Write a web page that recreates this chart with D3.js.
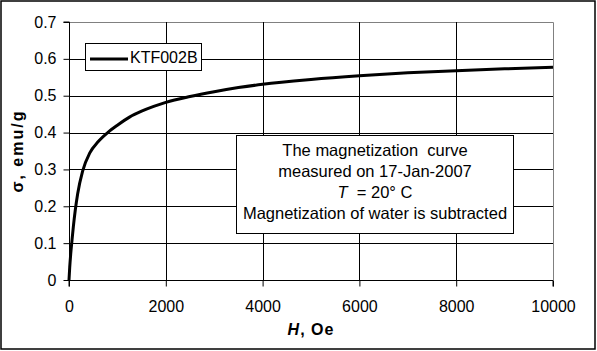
<!DOCTYPE html>
<html><head><meta charset="utf-8">
<script src="https://cdn.jsdelivr.net/npm/d3@7"></script>
<style>
html,body{margin:0;padding:0;background:#fff;}
svg{display:block;font-family:Arial,"Liberation Sans",sans-serif;}
</style></head>
<body>
<svg id="chart" width="597" height="351"></svg>
<script>
const fieldH = [0, 15, 35, 60, 90, 130, 180, 280, 430, 600, 800, 1000, 1250, 1500, 1750, 2000, 2500, 3000, 3500, 4000, 5000, 6000, 7000, 8000, 9000, 10000];
const sigma  = [0, 0.035, 0.07, 0.105, 0.145, 0.19, 0.235, 0.295, 0.345, 0.375, 0.40, 0.42, 0.442, 0.458, 0.471, 0.482, 0.498, 0.511, 0.522, 0.531, 0.544, 0.554, 0.562, 0.568, 0.573, 0.577];
const xTicks = [0, 2000, 4000, 6000, 8000, 10000];
const yTicks = [0, 0.1, 0.2, 0.3, 0.4, 0.5, 0.6, 0.7];
const seriesName = "KTF002B";
const noteLines = ["The magnetization  curve", "measured on 17-Jan-2007", "T  = 20° C", "Magnetization of water is subtracted"];

(function () {
const svg = d3.select("#chart");
const pL = 69, pR = 553, pT = 22, pB = 280;
const x = d3.scaleLinear().domain([0, 10000]).range([pL, pR]);
const y = d3.scaleLinear().domain([0, 0.7]).range([pB, pT]);

// outer frame
svg.append("rect").attr("x", 1).attr("y", 1).attr("width", 594).attr("height", 348)
  .attr("fill", "#fff").attr("stroke", "#000").attr("stroke-width", 1.5);

// plot border (grey top/right)
svg.append("path").attr("d", `M${pL},${pT + 0.5}H${pR + 0.5}V${pB}`)
  .attr("fill", "none").attr("stroke", "#808080").attr("stroke-width", 1);

// gridlines
const g = svg.append("g");
g.selectAll(".hg").data(yTicks.filter(d => d > 0 && d < 0.7)).join("line")
  .attr("x1", pL).attr("x2", pR)
  .attr("y1", d => Math.round(y(d)) + 0.5).attr("y2", d => Math.round(y(d)) + 0.5)
  .attr("stroke", "#000").attr("stroke-width", 1);
g.selectAll(".vg").data(xTicks.filter(d => d > 0 && d < 10000)).join("line")
  .attr("y1", pT).attr("y2", pB)
  .attr("x1", d => Math.round(x(d)) + 0.5).attr("x2", d => Math.round(x(d)) + 0.5)
  .attr("stroke", "#000").attr("stroke-width", 1);

// axes
const yAxis = d3.axisLeft(y).tickValues(yTicks).tickSize(6).tickPadding(7)
  .tickFormat(d => d === 0 ? "0" : d3.format(".1f")(d));
const gy = svg.append("g").attr("transform", `translate(${pL + 0.5},0)`).call(yAxis);
const xAxis = d3.axisBottom(x).tickValues(xTicks).tickSize(6).tickPadding(14).tickFormat(d3.format("d"));
const gx = svg.append("g").attr("transform", `translate(0,${pB + 0.5})`).call(xAxis);
[gx, gy].forEach(a => {
  a.select(".domain").attr("stroke", "#000");
  a.selectAll(".tick line").attr("stroke", "#000");
  a.selectAll(".tick text").attr("fill", "#000").style("font-size", "16px")
    .style("font-family", "Arial, 'Liberation Sans', sans-serif");
});
gy.select(".domain").attr("d", `M-6,${pT}H0V${pB}`);
gx.select(".domain").attr("d", `M${pL},6V0H${pR}V6`);

// curve
const pts = fieldH.map((h, i) => [h, sigma[i]]);
svg.append("path").datum(pts)
  .attr("d", d3.line().x(d => x(d[0])).y(d => y(d[1])).curve(d3.curveMonotoneX))
  .attr("fill", "none").attr("stroke", "#000").attr("stroke-width", 3)
  .attr("stroke-linejoin", "round");

// axis titles
const xt = svg.append("text").attr("x", (pL + pR) / 2).attr("y", 335)
  .attr("text-anchor", "middle").style("font-size", "16px").style("font-weight", "bold")
  .style("letter-spacing", "1px");
xt.append("tspan").style("font-style", "italic").text("H");
xt.append("tspan").text(", Oe");

svg.append("text").attr("transform", `translate(23,${(pT + pB) / 2}) rotate(-90)`)
  .attr("text-anchor", "middle").style("font-size", "16px").style("font-weight", "bold")
  .style("letter-spacing", "2px").text("σ, emu/g");

// legend
const lg = svg.append("g");
lg.append("rect").attr("x", 85.5).attr("y", 43.5).attr("width", 116).attr("height", 27)
  .attr("fill", "#fff").attr("stroke", "#000").attr("stroke-width", 1);
lg.append("line").attr("x1", 90).attr("x2", 128).attr("y1", 59).attr("y2", 59)
  .attr("stroke", "#000").attr("stroke-width", 3);
lg.append("text").attr("x", 130).attr("y", 63).style("font-size", "16px").text(seriesName);

// annotation
const ng = svg.append("g");
ng.append("rect").attr("x", 236.5).attr("y", 135.5).attr("width", 277).attr("height", 98)
  .attr("fill", "#fff").attr("stroke", "#000").attr("stroke-width", 1);
noteLines.forEach((t, i) => {
  const tx = ng.append("text").attr("x", 375).attr("y", 156 + i * 21)
    .attr("text-anchor", "middle").style("font-size", "16.5px").style("white-space", "pre");
  if (t.startsWith("T ")) {
    tx.append("tspan").style("font-style", "italic").text("T");
    tx.append("tspan").text(t.slice(1));
  } else tx.text(t);
});
})();
</script>
</body></html>
